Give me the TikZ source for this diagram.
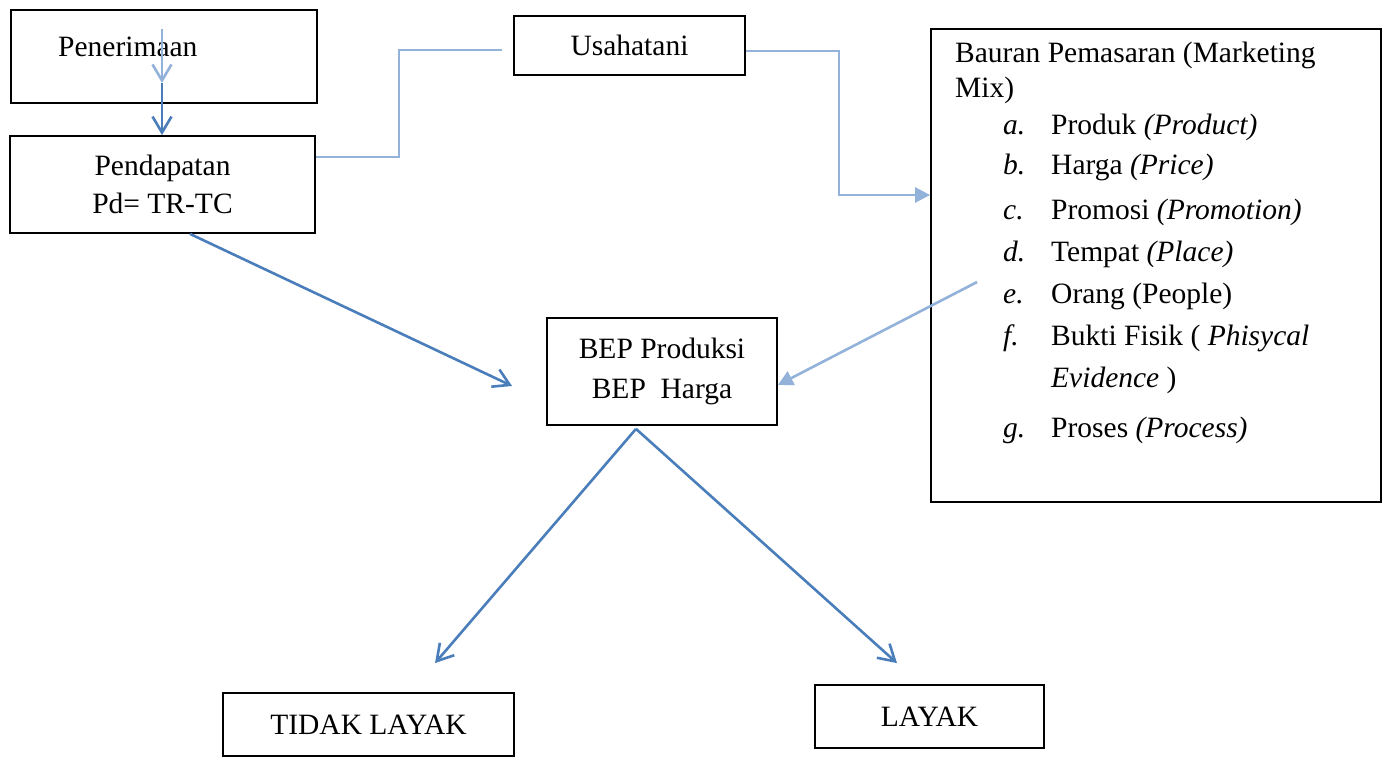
\documentclass[tikz,border=0pt]{standalone}
\usepackage{fontspec}
\setmainfont{Liberation Serif}
\usetikzlibrary{arrows.meta,positioning}
\definecolor{darkline}{HTML}{4A7EBB}
\definecolor{lightline}{HTML}{92B2DA}

\begin{document}
\begin{tikzpicture}[
    x=1pt, y=-1pt,
    font=\fontsize{29.5}{38}\selectfont,
    box/.style={rectangle, draw, line width=1.8pt, align=center, inner sep=0pt},
    txt/.style={anchor=base west, inner sep=0pt},
    dark/.style={-{Straight Barb[length=16pt,width=19pt]}, line width=2.6pt, draw=darkline},
    light/.style={line width=2.6pt, draw=lightline},
    lightbarb/.style={light, -{Straight Barb[length=16pt,width=19pt]}},
    lighthead/.style={light, -{Triangle[length=15pt,width=15pt]}}
]
    \useasboundingbox (0,0) rectangle (1390,757);

    % Left column
    \node[box, minimum width=306pt, minimum height=93pt] (pener) at (164,56.5) {};
    \node[txt] (penertxt) at (58,57) {Penerimaan};
    \node[box, minimum width=305pt, minimum height=97pt] (pend) at (162.5,184.5) {Pendapatan\\Pd= TR-TC};

    % Top middle
    \node[box, minimum width=231pt, minimum height=59pt] (usaha) at (629.5,45.5) {Usahatani};

    % Marketing mix
    \node[box, minimum width=450pt, minimum height=473pt] (bauran) at (1156,265.5) {};
    \node[txt] (head1) at (955,63) {Bauran Pemasaran (Marketing};
    \node[txt] (head2) at (955,98) {Mix)};
    \node[txt] (lbla) at (1003,135) {\textit{a.}};
    \node[txt] (itema) at (1051,135) {Produk \textit{(Product)}};
    \node[txt] (lblb) at (1003,175) {\textit{b.}};
    \node[txt] (itemb) at (1051,175) {Harga \textit{(Price)}};
    \node[txt] (lblc) at (1003,219) {\textit{c.}};
    \node[txt] (itemc) at (1051,219) {Promosi \textit{(Promotion)}};
    \node[txt] (lbld) at (1003,261) {\textit{d.}};
    \node[txt] (itemd) at (1051,261) {Tempat \textit{(Place)}};
    \node[txt] (lble) at (1003,303) {\textit{e.}};
    \node[txt] (iteme) at (1051,303) {Orang (People)};
    \node[txt] (lblf) at (1003,345) {\textit{f.}};
    \node[txt] (itemf) at (1051,345) {Bukti Fisik ( \textit{Phisycal}};
    \node[txt] (itemf2) at (1051,387) {\textit{Evidence} )};
    \node[txt] (lblg) at (1003,437) {\textit{g.}};
    \node[txt] (itemg) at (1051,437) {Proses \textit{(Process)}};

    % Centre and results
    \node[box, minimum width=230pt, minimum height=107pt] (bep) at (662,371.5) {BEP Produksi\\[2pt]BEP~ Harga};
    \node[box, minimum width=291pt, minimum height=63pt] (tidak) at (368.5,724.5) {TIDAK LAYAK};
    \node[box, minimum width=229pt, minimum height=63pt] (layak) at (929.5,716.5) {LAYAK};

    % Free ends
    \coordinate (ptop) at (162,29);
    \coordinate (pmid) at (162,83);
    \coordinate (apex) at ([xshift=-26pt,yshift=-3pt]bep.south);

    % Connectors
    \draw[lightbarb] (ptop) -- (pmid);
    \draw[dark] (pmid) -- (pend.north -| pmid);
    \draw[light, shorten >=11pt] ([yshift=27.5pt]pend.east) -- ++(83,0) |- ([yshift=-4.5pt]usaha.west);
    \draw[lighthead] ([yshift=-5.5pt]usaha.east) -- ++(93,0) |- ([yshift=70.5pt]bauran.west);
    \draw[dark] ([xshift=27.5pt]pend.south) -- ([xshift=-34pt,yshift=-14.5pt]bep.west);
    \draw[lighthead] ([xshift=47pt,yshift=-16.5pt]bauran.west) -- ([yshift=-13.5pt]bep.east);
    \draw[dark] (apex) -- ([xshift=66.5pt,yshift=29pt]tidak.north);
    \draw[dark] (apex) -- ([xshift=-32.5pt,yshift=21pt]layak.north);
\end{tikzpicture}
\end{document}
